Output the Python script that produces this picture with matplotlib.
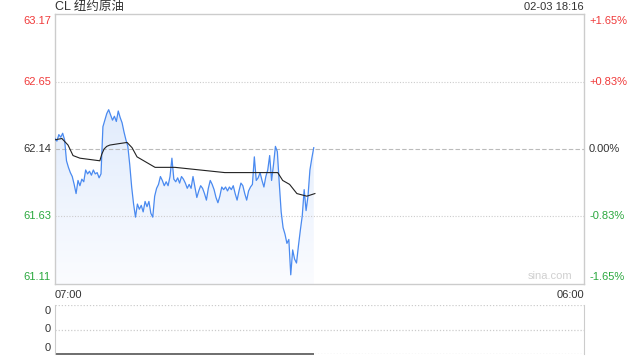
import numpy as np
import matplotlib
matplotlib.use('Agg')
from matplotlib import pyplot as plt
from matplotlib.colors import LinearSegmentedColormap

plt.rcParams['font.family'] = ['Liberation Sans', 'Noto Sans CJK SC', 'DejaVu Sans']

# CL price every 5 minutes from 07:00
step_min = 5
prices = [62.22, 62.20, 62.25, 62.23, 62.26, 62.21, 62.05, 62.00, 61.96, 61.93,
          61.87, 61.80, 61.90, 61.86, 61.91, 61.89, 61.98, 61.95, 61.97, 61.94,
          61.98, 61.95, 61.96, 61.92, 61.95, 62.31, 62.36, 62.41, 62.44, 62.40,
          62.36, 62.39, 62.35, 62.43, 62.38, 62.34, 62.27, 62.21, 62.16, 62.02,
          61.85, 61.72, 61.62, 61.72, 61.68, 61.71, 61.66, 61.74, 61.70, 61.74,
          61.65, 61.62, 61.78, 61.84, 61.87, 61.93, 61.90, 61.86, 61.89, 61.86,
          61.93, 62.07, 61.91, 61.89, 61.92, 61.88, 61.93, 61.91, 61.88, 61.84,
          61.87, 61.84, 61.93, 61.85, 61.77, 61.82, 61.86, 61.84, 61.80, 61.75,
          61.84, 61.90, 61.87, 61.83, 61.77, 61.73, 61.78, 61.85, 61.83, 61.85,
          61.82, 61.85, 61.83, 61.86, 61.80, 61.75, 61.82, 61.88, 61.86, 61.80,
          61.75, 61.82, 61.85, 61.87, 62.08, 61.90, 61.92, 61.96, 61.90, 61.85,
          61.93, 61.98, 62.09, 61.90, 62.02, 62.16, 62.12, 61.88, 61.66, 61.54,
          61.49, 61.42, 61.45, 61.18, 61.37, 61.30, 61.27, 61.40, 61.52, 61.63,
          61.83, 61.67, 61.78, 61.98, 62.07, 62.15]
volume = [0] * len(prices)

# average price line (minutes from 07:00, price)
avg_minutes = [0, 18, 34, 47, 65, 117, 122, 128, 135, 143, 165, 188, 201, 214,
               261, 313, 443, 516, 581, 594, 612, 631, 657, 678]
avg_prices = [62.21, 62.22, 62.17, 62.09, 62.07, 62.05, 62.10, 62.14, 62.16, 62.17,
              62.18, 62.19, 62.15, 62.08, 62.00, 62.00, 61.96, 61.96, 61.96, 61.90,
              61.87, 61.80, 61.78, 61.80]

prev_close = 62.14
y_ticks = [63.17, 62.65, 62.14, 61.63, 61.11]
pct_labels = ['+1.65%', '+0.83%', '0.00%', '-0.83%', '-1.65%']
session_min = 1380

RED = '#f03a3a'
GREEN = '#2aa83e'
DARK = '#333333'
BORDER = '#cccccc'

fig = plt.figure(figsize=(6.4, 3.6), dpi=100)
ax = fig.add_axes([55 / 640, 1 - 284 / 360, 529 / 640, 270 / 360])
axv = fig.add_axes([55 / 640, 1 - 354 / 360, 529 / 640, 49 / 360])

t = np.arange(len(prices)) * step_min
ymin, ymax = y_ticks[-1], y_ticks[0]

# gradient fill under the price line
cmap = LinearSegmentedColormap.from_list('fill', ['#fbfcff', '#d3e3fb'])
grad = np.linspace(0, 1, 256).reshape(-1, 1)
poly = ax.fill_between(t, prices, ymin, facecolor='none', edgecolor='none')
img = ax.imshow(grad, cmap=cmap, origin='lower', aspect='auto',
                extent=[0, session_min, ymin, ymax], zorder=1)
img.set_clip_path(poly.get_paths()[0], transform=ax.transData)

ax.plot(t, prices, color='#4a8af0', lw=0.9, zorder=3)
ax.plot(avg_minutes, avg_prices, color='#222222', lw=0.8, zorder=4)

for v in y_ticks[1:-1]:
    if v == prev_close:
        ax.axhline(v, color='#bbbbbb', lw=0.8, ls=(0, (4, 2)), zorder=2)
    else:
        ax.axhline(v, color=BORDER, lw=0.8, ls=(0, (1, 1.5)), zorder=2)

ax.set_xlim(0, session_min)
ax.set_ylim(ymin, ymax)
ax.set_xticks([])
ax.set_yticks([])
for s in ax.spines.values():
    s.set_color(BORDER)
    s.set_linewidth(1.0)

fs = 8
for i, (v, p) in enumerate(zip(y_ticks, pct_labels)):
    c = RED if v > prev_close else (GREEN if v < prev_close else DARK)
    va = 'top' if i == 0 else ('bottom' if i == len(y_ticks) - 1 else 'center')
    off = -2 if i == 0 else (2 if i == len(y_ticks) - 1 else 0)
    ax.annotate(f'{v:.2f}', (0, v), xycoords=('axes fraction', 'data'),
                xytext=(-4, off), textcoords='offset pixels',
                ha='right', va=va, color=c, fontsize=fs)
    ax.annotate(p, (1, v), xycoords=('axes fraction', 'data'),
                xytext=(5, off), textcoords='offset pixels',
                ha='left', va=va, color=c, fontsize=fs)

ax.annotate('CL 纽约原油', (0, 1), xycoords='axes fraction', xytext=(0, 7),
            textcoords='offset pixels', ha='left', va='center', fontsize=9, color=DARK)
ax.annotate('02-03 18:16', (1, 1), xycoords='axes fraction', xytext=(0, 7),
            textcoords='offset pixels', ha='right', va='center', fontsize=8, color=DARK)
ax.text(0, -0.022, '07:00', transform=ax.transAxes, ha='left', va='top',
        fontsize=8, color=DARK)
ax.text(1, -0.022, '06:00', transform=ax.transAxes, ha='right', va='top',
        fontsize=8, color=DARK)
ax.text(0.978, 0.012, 'sina.com', transform=ax.transAxes, ha='right', va='bottom',
        fontsize=8, color='#d0d0d0')

# volume panel
axv.set_xlim(0, session_min)
axv.set_ylim(0, 1)
axv.axhline(1, color=BORDER, lw=0.9, ls=(0, (1, 1.5)))
axv.axhline(0.5, color=BORDER, lw=0.9, ls=(0, (1, 1.5)))
axv.axhline(0, color=BORDER, lw=0.9, ls=(0, (1, 1.5)))
axv.plot(t, volume, color='#555555', lw=1.2, solid_capstyle='butt', clip_on=False)
axv.set_xticks([])
axv.set_yticks([])
for side in ['top', 'bottom']:
    axv.spines[side].set_visible(False)
for side in ['left', 'right']:
    axv.spines[side].set_color(BORDER)
for yv, va, off in [(1, 'top', 1), (0.5, 'center', 0), (0, 'bottom', 1)]:
    axv.annotate('0', (0, yv), xycoords=('axes fraction', 'data'),
                 xytext=(-4, -off if va == 'top' else off), textcoords='offset pixels',
                 ha='right', va=va, color=DARK, fontsize=fs)

fig.savefig('out.png', dpi=100)
